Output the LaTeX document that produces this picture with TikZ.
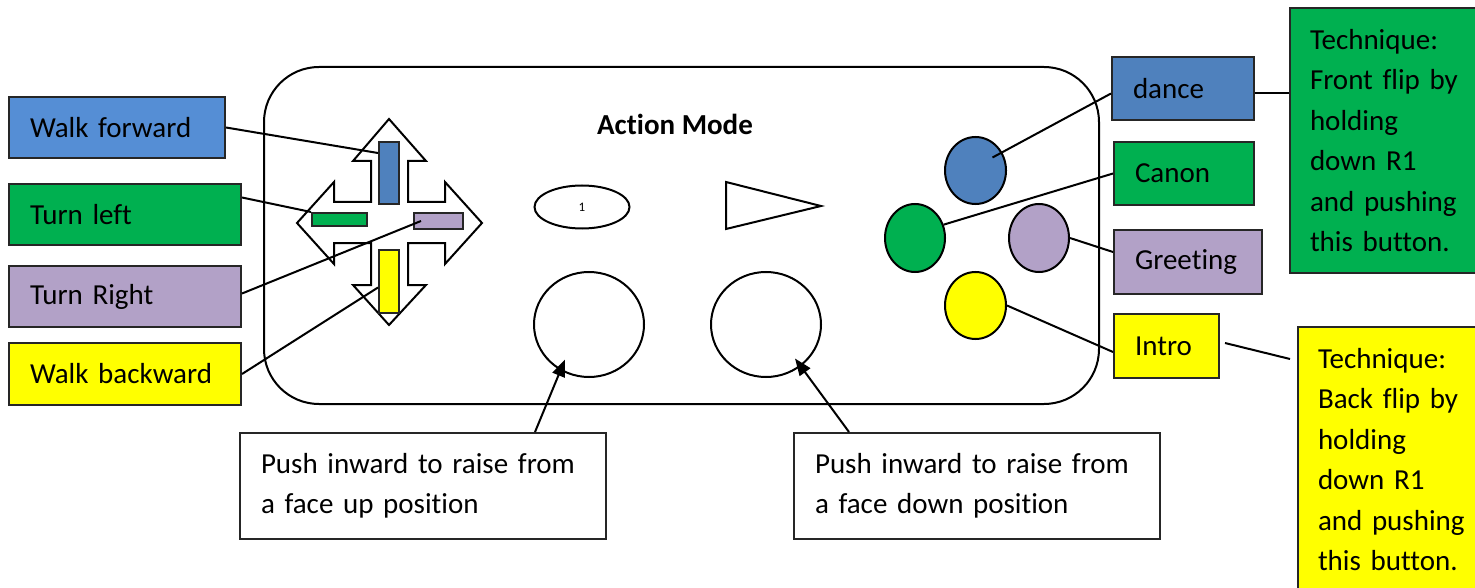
\documentclass[tikz,border=0pt]{standalone}
\usepackage{fontspec}
\setmainfont{Carlito}[Ligatures=NoCommon]
\usetikzlibrary{shapes.geometric,arrows.meta}
\definecolor{walkblue}{HTML}{558ED5}
\definecolor{padblue}{HTML}{4F81BD}
\definecolor{padgreen}{HTML}{00B050}
\definecolor{padlilac}{HTML}{B2A1C7}
\definecolor{padyellow}{HTML}{FFFF00}
\begin{document}
\begin{tikzpicture}[x=1pt,y=-1pt]
  \tikzset{
  lbl/.style={draw=black!85,line width=2pt,anchor=north west,inner xsep=21pt,inner ysep=0pt,align=left,font=\fontsize{29}{40.5}\selectfont},
  btn/.style={ellipse,draw,line width=2pt,inner sep=0pt},
  bar/.style={rectangle,draw=black!85,line width=2pt,inner sep=0pt},
  con/.style={line width=2pt},
  }
  \useasboundingbox (0,0) rectangle (1475,588);
  \clip (0,0) rectangle (1475,588);

  % the controller
  \draw[line width=2pt,rounded corners=55pt] (264,67) rectangle (1099,404);
  \node[font=\fontsize{29}{34}\selectfont\bfseries] (title) at (675,124) {Action Mode};

  % the cross
  \draw[line width=2pt] (389,119) -- (426,161) -- (408,161) -- (408,202) -- (445,202) -- (445,182) -- (482,223) -- (445,264) -- (445,243) -- (408,243) -- (408,285) -- (426,285) -- (389,325) -- (353,285) -- (371,285) -- (371,243) -- (334,243) -- (334,264) -- (297,223) -- (334,182) -- (334,202) -- (371,202) -- (371,161) -- (353,161) -- cycle;
  \node[bar,fill=padblue,minimum width=20pt,minimum height=62pt] (fwd) at (389,173) {};
  \node[bar,fill=padgreen,minimum width=55pt,minimum height=13pt] (lft) at (339.5,219.5) {};
  \node[bar,fill=padlilac,minimum width=49pt,minimum height=16pt] (rgt) at (438.5,221) {};
  \node[bar,fill=padyellow,minimum width=20pt,minimum height=63pt] (bwd) at (389,281.5) {};

  % select, start and the sticks
  \node[btn,minimum width=95pt,minimum height=43pt,font=\fontsize{13}{15}\selectfont] (sel) at (582,207) {1};
  \draw[line width=2pt] (726,182) -- (821,206) -- (726,229) -- cycle;
  \node[btn,minimum width=110pt,minimum height=105pt] (ls) at (589,324.5) {};
  \node[btn,minimum width=110pt,minimum height=105pt] (rs) at (766,324.5) {};

  % the four buttons
  \node[btn,fill=padblue,minimum width=61pt,minimum height=67pt] (bc) at (975.5,170.5) {};
  \node[btn,fill=padgreen,minimum width=60pt,minimum height=68pt] (gc) at (915,238) {};
  \node[btn,fill=padlilac,minimum width=60pt,minimum height=68pt] (pc) at (1039,238) {};
  \node[btn,fill=padyellow,minimum width=61pt,minimum height=67pt] (yc) at (975.5,305.5) {};

  % the labels
  \node[lbl,fill=walkblue,text width=174pt,minimum height=61pt] (wf) at (8,96) {Walk forward};
  \node[lbl,fill=padgreen,text width=190pt,minimum height=61pt] (tl) at (8,183) {Turn left};
  \node[lbl,fill=padlilac,text width=190pt,minimum height=61pt] (tr) at (8,265) {Turn Right};
  \node[lbl,fill=padyellow,text width=190pt,minimum height=62pt] (wb) at (8,342) {Walk backward};

  \node[lbl,fill=padblue,text width=100pt,minimum height=63pt] (dance) at (1111,56) {dance};
  \node[lbl,fill=padgreen,text width=98pt,minimum height=63pt] (canon) at (1113,141) {Canon};
  \node[lbl,fill=padlilac,text width=106pt,minimum height=64pt] (greet) at (1113,229) {Greeting};
  \node[lbl,fill=padyellow,text width=63pt,minimum height=64pt] (intro) at (1113,313) {Intro};

  \node[lbl,fill=padgreen,inner xsep=20pt,text width=146pt,minimum height=265pt] (tech1) at (1289,7) {Technique:\\\mbox{Front flip by}\\holding\\\mbox{down R1}\\\mbox{and pushing}\\\mbox{this button.}};
  \node[lbl,fill=padyellow,inner xsep=20pt,text width=146pt,minimum height=265pt] (tech2) at (1297,326) {Technique:\\\mbox{Back flip by}\\holding\\\mbox{down R1}\\\mbox{and pushing}\\\mbox{this button.}};

  \node[lbl,fill=white,text width=324pt,minimum height=106pt] (pushup) at (239,432) {Push inward to raise from\\a face up position};
  \node[lbl,fill=white,text width=324pt,minimum height=106pt] (pushdn) at (793,432) {Push inward to raise from\\a face down position};

  % the connection between labels and parts
  \draw[con] (wf.east) -- ([yshift=20pt]fwd.west);
  \draw[con] ([yshift=17pt]tl.east) -- (lft.north west);
  \draw[con] ([yshift=3pt]tr.east) -- ([xshift=8pt]rgt.west);
  \draw[con] (wb.east) -- ([yshift=-6pt]bwd.west);

  \draw[con] ([xshift=17pt,yshift=13pt]bc.center) -- ([yshift=-5pt]dance.west);
  \draw[con] (gc.25) -- (canon.west);
  \draw[con] (pc.east) -- ([yshift=10pt]greet.west);
  \draw[con] (yc.east) -- ([yshift=-6pt]intro.west);

  \coordinate (t2in) at (1290,359);
  \draw[con] ([yshift=-5pt]dance.east) -- ([yshift=-5pt]dance.east -| tech1.west);
  \draw[con] ([xshift=5pt,yshift=3pt]intro.east) -- (t2in);

  \draw[con,-{Triangle[length=17pt,width=13pt]}] ([xshift=296pt]pushup.north west) -- ([xshift=-24pt,yshift=-35pt]ls.center);
  \draw[con,-{Triangle[length=17pt,width=13pt]}] ([xshift=56pt]pushdn.north west) -- ([xshift=29pt,yshift=-34pt]rs.center);
\end{tikzpicture}
\end{document}
